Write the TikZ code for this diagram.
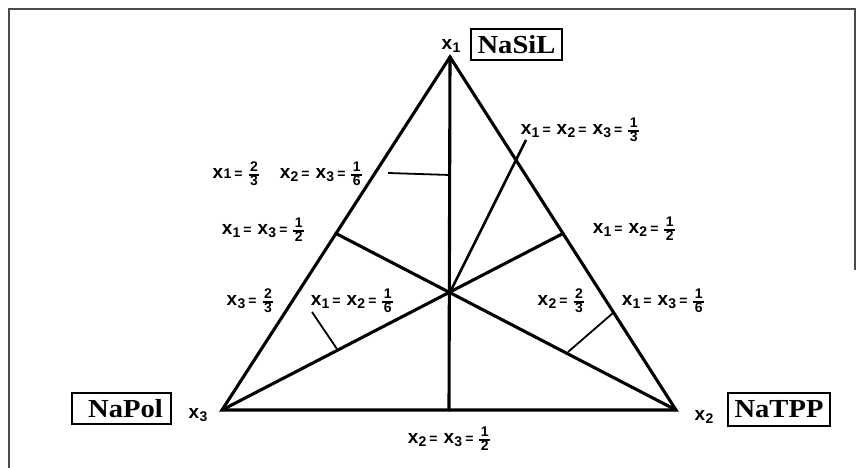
\documentclass[tikz,border=0pt]{standalone}
\usetikzlibrary{calc}
\usepackage{fontspec}
\setmainfont{Liberation Sans}
\newfontfamily\boxfont{Liberation Serif}
\newcommand\xs[1]{x\kern0.3pt\raisebox{-0.3ex}{\fontsize{14}{14}\selectfont #1}}
\newcommand\xn[1]{x\kern0.3pt{\fontsize{14}{14}\selectfont #1}}
\newcommand\eqs{\kern3pt{\fontsize{14}{14}\selectfont=}\kern6pt}
\newcommand\fr[2]{{\fontsize{14}{14}\selectfont\bfseries\setlength\arrayrulewidth{1.5pt}\renewcommand\arraystretch{0.6}\begin{tabular}[c]{@{\kern1.5pt}c@{\kern1.5pt}}#1\\\hline\rule{0pt}{9.5pt}#2\end{tabular}}}
\newcommand\bx[1]{\scalebox{1.1}[1]{#1}}
\begin{document}
\begin{tikzpicture}[x=1pt,y=-1pt,
  tri/.style={line width=3.1pt,line join=miter,line cap=round},
  ptr/.style={line width=1.8pt},
  lab/.style={font=\fontsize{19}{19}\selectfont\bfseries,inner sep=0pt},
  cbox/.style={draw,line width=1.3pt,font=\boxfont\fontsize{26}{26}\selectfont\bfseries,inner sep=0pt,minimum height=31pt}]
\useasboundingbox (0,0) rectangle (863,468);
% frame
\draw[line width=2pt,gray!60!black] (9,468) -- (9,9) -- (855,9) -- (855,270);
% vertices
\coordinate (T) at (450,57);
\coordinate (L) at (222,410);
\coordinate (R) at (676,410);
\coordinate (G) at (450,292.3);
\coordinate (Mb) at ($(L)!0.5!(R)$);
\coordinate (Ml) at ($(T)!0.5!(L)$);
\coordinate (Mr) at ($(T)!0.5!(R)$);
\draw[tri] (T) -- (L) -- (R) -- cycle;
\draw[tri] (T) -- (Mb);
\draw[tri] (L) -- (Mr);
\draw[tri] (R) -- (Ml);
% pointer to centroid
\coordinate (P1) at (526,140);
\draw[line width=2.6pt] (G) -- (P1);
% short pointers
\coordinate (A1) at (388,173);
\coordinate (A2) at (450,175);
\draw[ptr] (A1) -- (A2);
\coordinate (B1) at (312,312);
\coordinate (B2) at (337,349);
\draw[ptr] (B1) -- (B2);
\coordinate (C1) at (613,313);
\coordinate (C2) at (568,352);
\draw[ptr] (C1) -- (C2);
% vertex labels
\node[lab] (v1) at (451,46) {\xs{1}};
\node[lab] (v3) at (198,415) {\xs{3}};
\node[lab] (v2) at (704,417) {\xs{2}};
\node[cbox,minimum width=91pt] (nasil) at (516.5,44.5) {\bx{NaSiL}};
\node[cbox,minimum width=99pt] (napol) at (121.5,408.5) {\kern8pt\bx{NaPol}};
\node[cbox,minimum width=102pt,minimum height=33pt] (natpp) at (779,409.5) {\bx{NaTPP}};
% labels
\node[lab] (l1) at (236,175) {\xn{1}\eqs\fr{2}{3}};
\node[lab] (l2) at (321,175) {\xs{2}\eqs\xs{3}\eqs\fr{1}{6}};
\node[lab] (l3) at (263,231) {\xs{1}\eqs\xs{3}\eqs\fr{1}{2}};
\node[lab] (l4) at (580,131) {\xs{1}\eqs\xs{2}\eqs\xs{3}\eqs\fr{1}{3}};
\node[lab] (l5) at (634,230) {\xs{1}\eqs\xs{2}\eqs\fr{1}{2}};
\node[lab] (l6) at (250,302) {\xs{3}\eqs\fr{2}{3}};
\node[lab] (l7) at (352,302) {\xs{1}\eqs\xs{2}\eqs\fr{1}{6}};
\node[lab] (l8) at (561,302) {\xs{2}\eqs\fr{2}{3}};
\node[lab] (l9) at (663,302) {\xs{1}\eqs\xs{3}\eqs\fr{1}{6}};
\node[lab] (l10) at (449,440) {\xs{2}\eqs\xs{3}\eqs\fr{1}{2}};
\end{tikzpicture}
\end{document}
